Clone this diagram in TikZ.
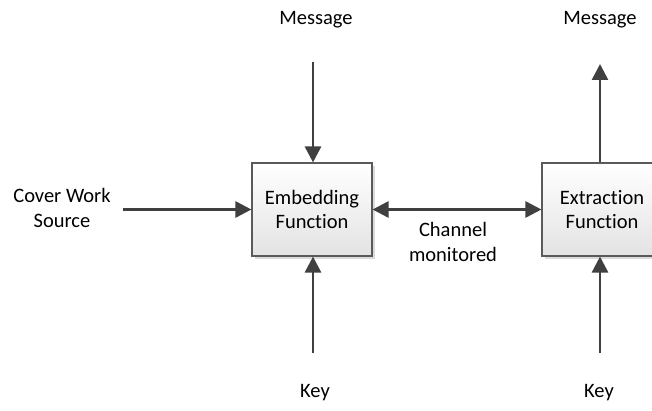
\documentclass[tikz,border=0pt]{standalone}
\usepackage{fontspec}
\setmainfont{Carlito}[Ligatures=NoCommon]
\usetikzlibrary{arrows.meta,shadows}

\definecolor{ink}{HTML}{404040}
\definecolor{frame}{HTML}{5A5A5A}

\tikzset{
  label/.style={font=\fontsize{20.5}{24.5}\selectfont, align=center, text=black, inner sep=0pt},
  funcbox/.style={label, draw=frame, line width=1.1pt, minimum width=120pt, minimum height=93pt,
    top color=white, bottom color=gray!22,
    drop shadow={shadow xshift=3pt, shadow yshift=-3pt, fill=gray!35, opacity=0.8}},
  arr/.style={draw=ink, line width=2.6pt, -{Triangle[length=16pt,width=16pt]}},
  biarr/.style={draw=ink, line width=2.6pt, {Triangle[length=16pt,width=16pt]}-{Triangle[length=16pt,width=16pt]}},
}

\begin{document}
\begin{tikzpicture}[x=1pt, y=-1pt]
  \path[use as bounding box, clip] (0,0) rectangle (652,411);
  \fill[white] (0,0) rectangle (652,411);

  % function blocks
  \node[funcbox] (emb) at (312,209.5) {Embedding\\Function};
  \node[funcbox] (ext) at (602,209.5) {Extraction\\Function};

  % text labels
  \node[label] (msgin)  at (316,20)  {Message};
  \node[label] (msgout) at (600,20)  {Message};
  \node[label] (cover)  at (62,208)  {Cover Work\\Source};
  \node[label] (chan)   at (453,242) {Channel\\monitored};
  \node[label] (keyin)  at (315,393) {Key};
  \node[label] (keyout) at (599,393) {Key};

  % free line ends
  \coordinate (msgin-end)  at (313,62);
  \coordinate (cover-end)  at (124,208);
  \coordinate (keyin-end)  at (313,353);
  \coordinate (keyout-end) at (600,353);
  \coordinate (msgout-end) at (600,64);

  % connectors
  \draw[arr] (msgin-end) -- (msgin-end |- emb.north);
  \draw[arr] (cover-end) -- (cover-end |- emb.west) -- (emb.west);
  \draw[arr] (keyin-end) -- (keyin-end |- emb.south);
  \draw[biarr] (emb.east) -- (ext.west);
  \draw[arr] (msgout-end |- ext.north) -- (msgout-end);
  \draw[arr] (keyout-end) -- (keyout-end |- ext.south);
\end{tikzpicture}
\end{document}
